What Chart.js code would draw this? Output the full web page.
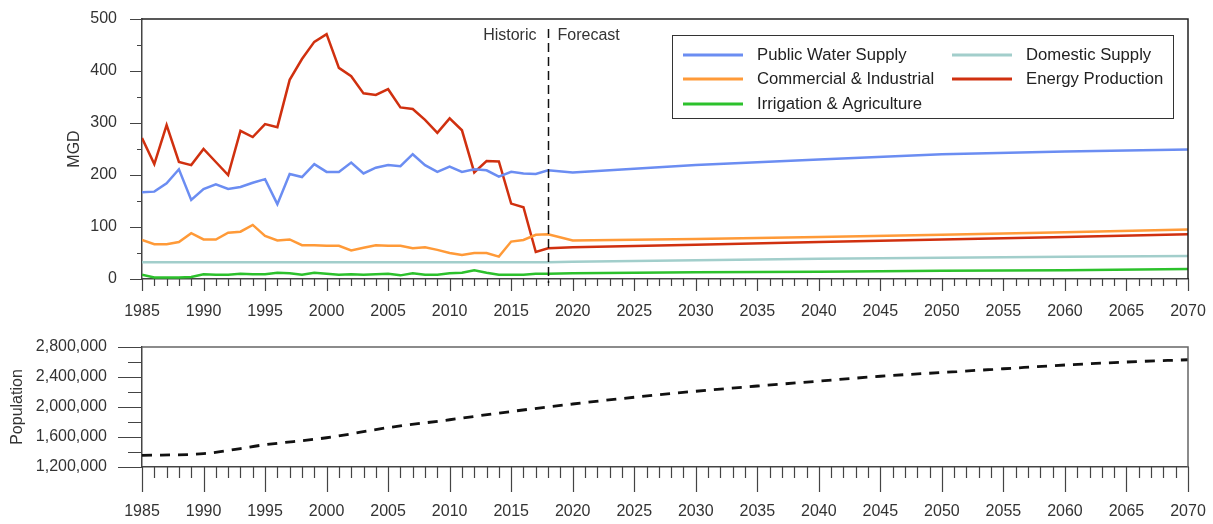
<html>

<head>
    <title>Water Use and Population</title>
    <script src="https://cdn.jsdelivr.net/npm/chart.js@4.4.1/dist/chart.umd.min.js"></script>
    <style>
        body { margin: 0; background: #fff; }
        #top { position: absolute; left: 0; top: 0; }
        #bottom { position: absolute; left: 0; top: 330px; }
    </style>
</head>

<body>
    <canvas id="top" width="1213" height="330"></canvas>
    <canvas id="bottom" width="1213" height="194"></canvas>
</body>
<script>
    // historic data, one value per year 1985-2018
    var histYears = [1985, 1986, 1987, 1988, 1989, 1990, 1991, 1992, 1993, 1994, 1995, 1996, 1997, 1998, 1999, 2000, 2001,
        2002, 2003, 2004, 2005, 2006, 2007, 2008, 2009, 2010, 2011, 2012, 2013, 2014, 2015, 2016, 2017, 2018];
    var publicWater = [167, 168, 184, 211, 152, 173, 182, 173, 177, 185, 192, 144, 202, 196, 221, 206, 206,
        224, 203, 214, 219, 217, 240, 219, 206, 216, 206, 211, 209, 197, 206, 203, 202, 209];
    var commercial = [75, 67, 67, 71, 88, 76, 76, 89, 91, 104, 83, 74, 76, 65, 65, 64, 64,
        55, 60, 65, 64, 64, 59, 61, 56, 50, 46, 50, 50, 43, 72, 75, 85, 86];
    var irrigation = [8, 3, 3, 3, 4, 9, 8, 8, 10, 9, 9, 12, 11, 8, 12, 10, 8,
        9, 8, 9, 10, 7, 11, 8, 8, 11, 12, 17, 12, 8, 8, 8, 10, 10];
    var domestic = [32, 32, 32, 32, 32, 32, 32, 32, 32, 32, 32, 32, 32, 32, 32, 32, 32,
        32, 32, 32, 32, 32, 32, 32, 32, 32, 32, 32, 32, 32, 32, 32, 32, 32];
    var energy = [271, 221, 296, 225, 219, 250, 225, 200, 285, 273, 298, 292, 383, 423, 456, 471, 406,
        390, 357, 354, 365, 330, 327, 306, 281, 309, 286, 205, 227, 226, 145, 138, 52, 59];

    // forecast data
    var forecastYears = [2020, 2030, 2040, 2050, 2060, 2070];
    var publicWaterF = [205, 219, 230, 240, 245, 249];
    var commercialF = [74, 77, 81, 85, 90, 95];
    var irrigationF = [11, 13, 14, 16, 17, 19];
    var domesticF = [33, 36, 39, 41, 43, 44];
    var energyF = [61, 66, 71, 76, 81, 86];

    // population
    var popYears = [1985, 1990, 1995, 2000, 2005, 2010, 2015, 2020, 2025, 2030, 2035, 2040, 2045, 2050, 2055, 2060, 2065, 2070];
    var population = [1355000, 1378000, 1497000, 1590000, 1725000, 1830000, 1940000, 2040000, 2130000, 2210000,
        2280000, 2345000, 2410000, 2460000, 2510000, 2560000, 2600000, 2630000];

    var forecastStart = 2018;

    var FONT = "'Liberation Sans', Arial, sans-serif";
    var TEXT = '#333';
    var AXIS = '#444';

    function points(xs, ys, xs2, ys2) {
        var out = [];
        for (var i = 0; i < xs.length; i++) out.push({ x: xs[i], y: ys[i] });
        if (xs2) for (var j = 0; j < xs2.length; j++) out.push({ x: xs2[j], y: ys2[j] });
        return out;
    }

    function line(label, color, data) {
        return { label: label, data: data, borderColor: color, backgroundColor: color,
            borderWidth: 2.5, pointRadius: 0, tension: 0, fill: false };
    }

    // invisible chart.js ticks are only used as the gap between axis and labels
    // (ticks.padding would also push the chart area in)
    function hiddenGrid(gap) {
        return { drawOnChartArea: false, drawTicks: true, tickLength: gap, tickColor: 'rgba(0,0,0,0)' };
    }

    // tick marks (major + minor), frame on top and right
    var axisMarks = {
        id: 'axisMarks',
        afterDraw: function (chart, args, opts) {
            var ctx = chart.ctx, a = chart.chartArea;
            var xs = chart.scales.x, ys = chart.scales.y;
            ctx.save();
            ctx.strokeStyle = AXIS;
            ctx.lineWidth = 1.2;
            ctx.beginPath();
            for (var yr = xs.min; yr <= xs.max; yr++) {
                var px = Math.round(xs.getPixelForValue(yr)) + 0.5;
                var len = yr % 5 === 0 ? opts.xMajor : opts.xMinor;
                ctx.moveTo(px, a.bottom);
                ctx.lineTo(px, a.bottom + len);
            }
            for (var v = ys.min; v <= ys.max; v += opts.yMinorStep) {
                var py = Math.round(ys.getPixelForValue(v)) + 0.5;
                var l = v % opts.yMajorStep === 0 ? opts.yMajor : opts.yMinor;
                ctx.moveTo(a.left, py);
                ctx.lineTo(a.left - l, py);
            }
            ctx.stroke();
            // frame
            ctx.strokeStyle = opts.frame;
            ctx.lineWidth = 1.5;
            ctx.beginPath();
            ctx.moveTo(a.left, a.top);
            ctx.lineTo(a.right, a.top);
            ctx.lineTo(a.right, a.bottom);
            ctx.stroke();
            ctx.restore();
        }
    };

    // historic / forecast divider and the boxed legend
    var annotations = {
        id: 'annotations',
        afterDraw: function (chart) {
            var ctx = chart.ctx, a = chart.chartArea;
            var px = Math.round(chart.scales.x.getPixelForValue(forecastStart)) + 0.5;
            ctx.save();
            ctx.strokeStyle = '#111';
            ctx.lineWidth = 1.5;
            ctx.setLineDash([9, 5]);
            ctx.beginPath();
            ctx.moveTo(px, a.top + 10);
            ctx.lineTo(px, a.bottom + 4);
            ctx.stroke();
            ctx.setLineDash([]);

            ctx.font = '16px ' + FONT;
            ctx.fillStyle = TEXT;
            ctx.textBaseline = 'middle';
            ctx.textAlign = 'right';
            ctx.fillText('Historic', px - 12, a.top + 17);
            ctx.textAlign = 'left';
            ctx.fillText('Forecast', px + 9, a.top + 17);

            // legend box
            ctx.strokeStyle = '#333';
            ctx.lineWidth = 1;
            ctx.strokeRect(672.5, 35.5, 501, 83);
            var cols = [683, 952];
            var rows = [55, 79, 104];
            var order = [0, 2, 1, 3, 4]; // read across rows
            ctx.font = '16.7px ' + FONT;
            ctx.textAlign = 'left';
            chart.data.datasets.forEach(function (ds, i) {
                var slot = order.indexOf(i);
                var cx = cols[slot % 2], cy = rows[Math.floor(slot / 2)];
                ctx.strokeStyle = ds.borderColor;
                ctx.lineWidth = 3;
                ctx.beginPath();
                ctx.moveTo(cx, cy);
                ctx.lineTo(cx + 60, cy);
                ctx.stroke();
                ctx.fillStyle = '#222';
                ctx.fillText(ds.label, cx + 74, cy);
            });
            ctx.restore();
        }
    };

    var topChart = new Chart(document.getElementById('top'), {
        type: 'line',
        data: {
            datasets: [
                line('Public Water Supply', '#6b8df2', points(histYears, publicWater, forecastYears, publicWaterF)),
                line('Commercial & Industrial', '#ff9a38', points(histYears, commercial, forecastYears, commercialF)),
                line('Domestic Supply', '#a2cecb', points(histYears, domestic, forecastYears, domesticF)),
                line('Energy Production', '#d0300f', points(histYears, energy, forecastYears, energyF)),
                line('Irrigation & Agriculture', '#2cc12c', points(histYears, irrigation, forecastYears, irrigationF))
            ]
        },
        options: {
            responsive: false,
            animation: false,
            layout: { padding: { top: 19, right: 25, left: 0, bottom: 0 } },
            plugins: {
                legend: { display: false },
                tooltip: { enabled: false },
                axisMarks: { xMajor: 12, xMinor: 7, yMajor: 12, yMinor: 5, yMinorStep: 50, yMajorStep: 100, frame: '#222' }
            },
            scales: {
                x: {
                    type: 'linear', min: 1985, max: 2070,
                    afterFit: function (s) { s.height = 51; },
                    grid: hiddenGrid(23),
                    border: { display: true, color: AXIS, width: 1.5 },
                    ticks: { stepSize: 5, padding: 0, color: TEXT, font: { family: FONT, size: 16 },
                        maxRotation: 0, callback: function (v) { return String(v); } }
                },
                y: {
                    min: 0, max: 500,
                    afterFit: function (s) { s.width = 142; },
                    grid: hiddenGrid(25),
                    border: { display: true, color: AXIS, width: 1.5 },
                    ticks: { stepSize: 100, padding: 0, color: TEXT, font: { family: FONT, size: 16 } },
                    title: { display: true, text: 'MGD', color: TEXT, font: { family: FONT, size: 16 },
                        padding: { top: 65, bottom: 0 } }
                }
            }
        },
        plugins: [axisMarks, annotations]
    });

    var bottomChart = new Chart(document.getElementById('bottom'), {
        type: 'line',
        data: {
            datasets: [{
                label: 'Population',
                data: points(popYears, population),
                borderColor: '#111',
                borderWidth: 2.8,
                borderDash: [10, 8],
                pointRadius: 0,
                cubicInterpolationMode: 'monotone',
                fill: false
            }]
        },
        options: {
            responsive: false,
            animation: false,
            layout: { padding: { top: 17, right: 25, left: 0, bottom: 0 } },
            plugins: {
                legend: { display: false },
                tooltip: { enabled: false },
                axisMarks: { xMajor: 25, xMinor: 11, yMajor: 24, yMinor: 14, yMinorStep: 200000, yMajorStep: 400000, frame: '#666' }
            },
            scales: {
                x: {
                    type: 'linear', min: 1985, max: 2070,
                    afterFit: function (s) { s.height = 57; },
                    grid: hiddenGrid(35),
                    border: { display: true, color: AXIS, width: 1.5 },
                    ticks: { stepSize: 5, padding: 0, color: TEXT, font: { family: FONT, size: 16 },
                        maxRotation: 0, callback: function (v) { return String(v); } }
                },
                y: {
                    min: 1200000, max: 2800000,
                    afterFit: function (s) { s.width = 142; },
                    grid: hiddenGrid(35),
                    border: { display: true, color: AXIS, width: 1.5 },
                    ticks: { stepSize: 400000, padding: 0, color: TEXT, font: { family: FONT, size: 16 },
                        callback: function (v) { return v.toLocaleString('en-US'); } },
                    title: { display: true, text: 'Population', color: TEXT, font: { family: FONT, size: 16 },
                        padding: { top: 8, bottom: 0 } }
                }
            }
        },
        plugins: [axisMarks]
    });
</script>

</html>
